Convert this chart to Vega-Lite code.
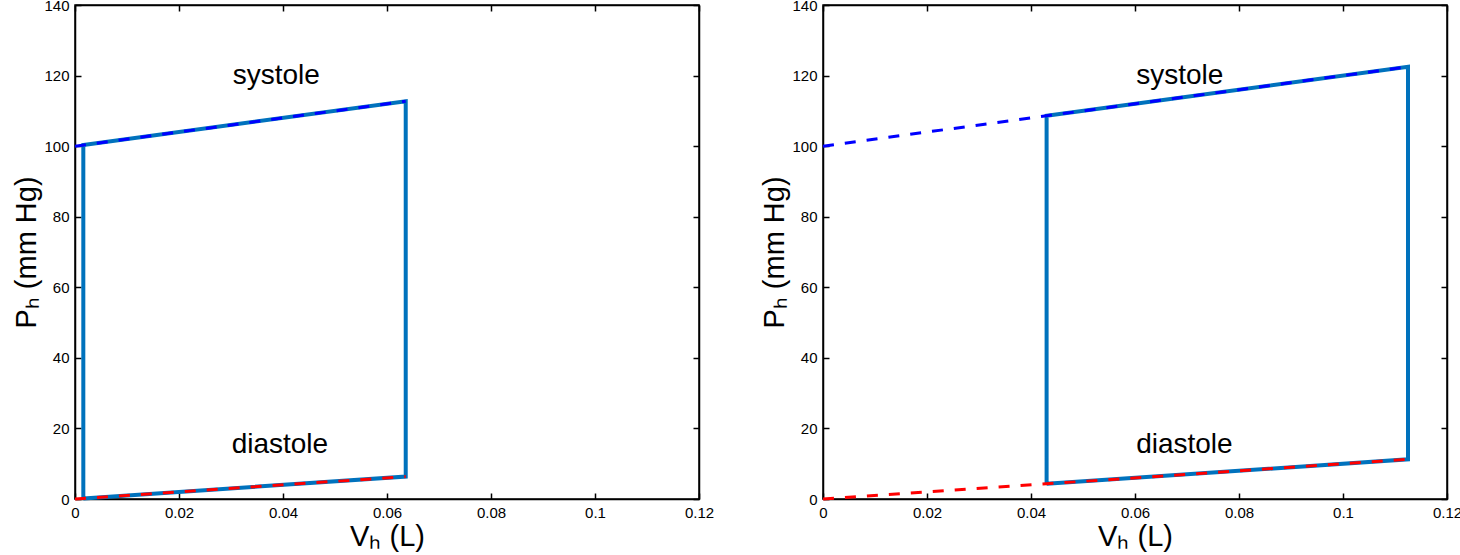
{
  "$schema": "https://vega.github.io/schema/vega-lite/v6.json",
  "background": "white",
  "padding": {"left": 12, "top": -3, "right": 0, "bottom": 0},
  "bounds": "flush",
  "spacing": 124,
  "datasets": {
    "lines": [
      {"panel": "A", "kind": "loop", "order": 1, "V": 0.0016, "P": 0.16},
      {"panel": "A", "kind": "loop", "order": 2, "V": 0.0016, "P": 100.32},
      {"panel": "A", "kind": "loop", "order": 3, "V": 0.0636, "P": 112.72},
      {"panel": "A", "kind": "loop", "order": 4, "V": 0.0636, "P": 6.36},
      {"panel": "A", "kind": "loop", "order": 5, "V": 0.0016, "P": 0.16},
      {"panel": "A", "kind": "systole", "order": 1, "V": 0, "P": 100},
      {"panel": "A", "kind": "systole", "order": 2, "V": 0.0636, "P": 112.72},
      {"panel": "A", "kind": "diastole", "order": 1, "V": 0, "P": 0},
      {"panel": "A", "kind": "diastole", "order": 2, "V": 0.0636, "P": 6.36},
      {"panel": "B", "kind": "loop", "order": 1, "V": 0.043, "P": 4.3},
      {"panel": "B", "kind": "loop", "order": 2, "V": 0.043, "P": 108.6},
      {"panel": "B", "kind": "loop", "order": 3, "V": 0.1125, "P": 122.5},
      {"panel": "B", "kind": "loop", "order": 4, "V": 0.1125, "P": 11.25},
      {"panel": "B", "kind": "loop", "order": 5, "V": 0.043, "P": 4.3},
      {"panel": "B", "kind": "systole", "order": 1, "V": 0, "P": 100},
      {"panel": "B", "kind": "systole", "order": 2, "V": 0.1125, "P": 122.5},
      {"panel": "B", "kind": "diastole", "order": 1, "V": 0, "P": 0},
      {"panel": "B", "kind": "diastole", "order": 2, "V": 0.1125, "P": 11.25}
    ],
    "labels": [
      {"panel": "A", "label": "systole", "V": 0.0387, "P": 120},
      {"panel": "A", "label": "diastole", "V": 0.0394, "P": 15.3},
      {"panel": "B", "label": "systole", "V": 0.0686, "P": 120},
      {"panel": "B", "label": "diastole", "V": 0.0695, "P": 15.3}
    ]
  },
  "hconcat": [
    {
      "width": 624,
      "height": 494,
      "resolve": {"axis": {"x": "independent", "y": "independent"}},
      "layer": [
        {
          "data": {"name": "lines"},
          "transform": [{"filter": "datum.panel == 'A' && datum.kind == 'loop'"}],
          "mark": {"type": "line", "color": "#0072BD", "strokeWidth": 4},
          "encoding": {
            "x": {"field": "V", "type": "quantitative", "scale": {"domain": [0, 0.12], "nice": false, "zero": false},
                  "axis": {"orient": "bottom", "title": "Vₕ (L)", "values": [0, 0.02, 0.04, 0.06, 0.08, 0.1, 0.12]}},
            "y": {"field": "P", "type": "quantitative", "scale": {"domain": [0, 140], "nice": false},
                  "axis": {"orient": "left", "title": "Pₕ (mm Hg)", "values": [0, 20, 40, 60, 80, 100, 120, 140]}},
            "order": {"field": "order", "type": "quantitative"}
          }
        },
        {
          "data": {"name": "lines"},
          "transform": [{"filter": "datum.panel == 'A' && datum.kind != 'loop'"}],
          "mark": {"type": "line", "strokeWidth": 3, "strokeDash": [11, 11]},
          "encoding": {
            "x": {"field": "V", "type": "quantitative", "axis": {"orient": "top", "labels": false, "title": null, "values": [0, 0.02, 0.04, 0.06, 0.08, 0.1, 0.12]}},
            "y": {"field": "P", "type": "quantitative", "axis": {"orient": "right", "labels": false, "title": null, "values": [0, 20, 40, 60, 80, 100, 120, 140]}},
            "color": {"field": "kind", "type": "nominal", "scale": {"domain": ["systole", "diastole"], "range": ["#0000FF", "#FF0000"]}, "legend": null},
            "order": {"field": "order", "type": "quantitative"}
          }
        },
        {
          "data": {"name": "labels"},
          "transform": [{"filter": "datum.panel == 'A'"}],
          "mark": {"type": "text", "fontSize": 28, "font": "Liberation Sans", "color": "black", "align": "center", "baseline": "middle"},
          "encoding": {
            "x": {"field": "V", "type": "quantitative", "axis": null},
            "y": {"field": "P", "type": "quantitative", "axis": null},
            "text": {"field": "label"}
          }
        }
      ]
    },
    {
      "width": 624,
      "height": 494,
      "resolve": {"axis": {"x": "independent", "y": "independent"}},
      "layer": [
        {
          "data": {"name": "lines"},
          "transform": [{"filter": "datum.panel == 'B' && datum.kind == 'loop'"}],
          "mark": {"type": "line", "color": "#0072BD", "strokeWidth": 4},
          "encoding": {
            "x": {"field": "V", "type": "quantitative", "scale": {"domain": [0, 0.12], "nice": false, "zero": false},
                  "axis": {"orient": "bottom", "title": "Vₕ (L)", "values": [0, 0.02, 0.04, 0.06, 0.08, 0.1, 0.12]}},
            "y": {"field": "P", "type": "quantitative", "scale": {"domain": [0, 140], "nice": false},
                  "axis": {"orient": "left", "title": "Pₕ (mm Hg)", "values": [0, 20, 40, 60, 80, 100, 120, 140]}},
            "order": {"field": "order", "type": "quantitative"}
          }
        },
        {
          "data": {"name": "lines"},
          "transform": [{"filter": "datum.panel == 'B' && datum.kind != 'loop'"}],
          "mark": {"type": "line", "strokeWidth": 3, "strokeDash": [11, 11]},
          "encoding": {
            "x": {"field": "V", "type": "quantitative", "axis": {"orient": "top", "labels": false, "title": null, "values": [0, 0.02, 0.04, 0.06, 0.08, 0.1, 0.12]}},
            "y": {"field": "P", "type": "quantitative", "axis": {"orient": "right", "labels": false, "title": null, "values": [0, 20, 40, 60, 80, 100, 120, 140]}},
            "color": {"field": "kind", "type": "nominal", "scale": {"domain": ["systole", "diastole"], "range": ["#0000FF", "#FF0000"]}, "legend": null},
            "order": {"field": "order", "type": "quantitative"}
          }
        },
        {
          "data": {"name": "labels"},
          "transform": [{"filter": "datum.panel == 'B'"}],
          "mark": {"type": "text", "fontSize": 28, "font": "Liberation Sans", "color": "black", "align": "center", "baseline": "middle"},
          "encoding": {
            "x": {"field": "V", "type": "quantitative", "axis": null},
            "y": {"field": "P", "type": "quantitative", "axis": null},
            "text": {"field": "label"}
          }
        }
      ]
    }
  ],
  "config": {
    "font": "Liberation Sans",
    "view": {"stroke": "black", "strokeWidth": 1.5},
    "axis": {
      "grid": false,
      "domainColor": "black",
      "domainWidth": 1.5,
      "tickColor": "black",
      "tickWidth": 1.5,
      "tickSize": -6,
      "labelPadding": 12,
      "labelFont": "Liberation Sans",
      "labelFontSize": 15,
      "labelColor": "black",
      "labelFlush": false,
      "labelOverlap": false,
      "titleFont": "Liberation Sans",
      "titleFontSize": 29,
      "titleFontWeight": "normal",
      "titleColor": "black",
      "titlePadding": 2,
      "format": "~f"
    }
  }
}
